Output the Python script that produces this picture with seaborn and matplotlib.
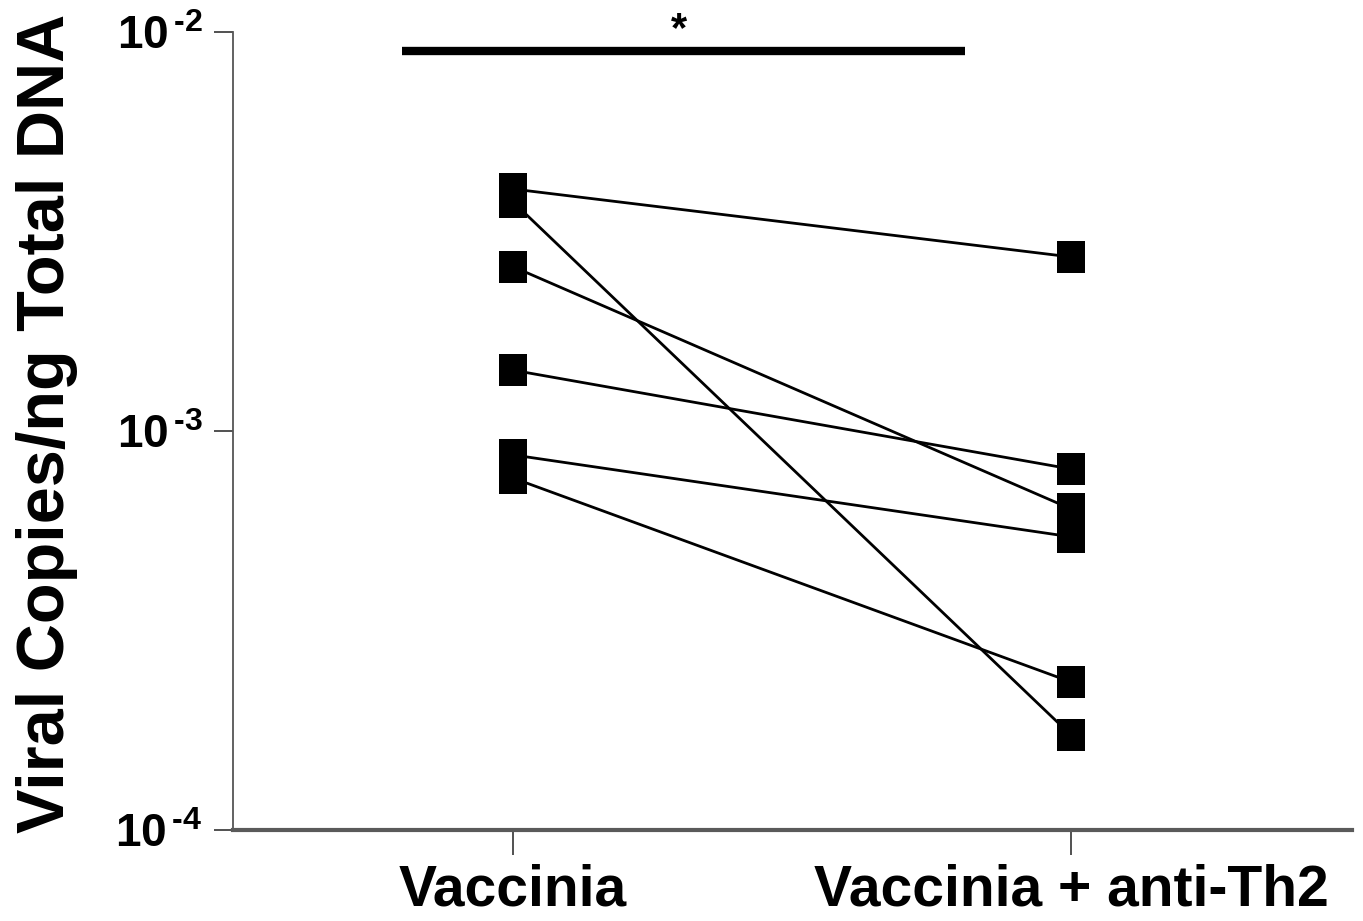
import numpy as np
import pandas as pd
import matplotlib
matplotlib.use("Agg")
import matplotlib.pyplot as plt
import seaborn as sns

# ---- data ----
groups = ["Vaccinia", "Vaccinia + anti-Th2"]
vaccinia = [4.04e-3, 3.75e-3, 2.58e-3, 1.42e-3, 0.871e-3, 0.762e-3]
anti_th2 = [2.73e-3, 0.173e-3, 0.638e-3, 0.803e-3, 0.543e-3, 0.235e-3]
ytick_values = [1e-4, 1e-3, 1e-2]
ytick_labels = ["$\\mathbf{10^{\\,\u20104}}$", "$\\mathbf{10^{\\,\u20103}}$", "$\\mathbf{10^{\\,\u20102}}$"]
ylabel = "Viral Copies/ng Total DNA"
sig_text = "*"

sns.set_theme(style="white")
plt.rcParams["font.family"] = ["Liberation Sans", "DejaVu Sans"]
plt.rcParams["mathtext.fontset"] = "custom"
plt.rcParams["mathtext.rm"] = "Liberation Sans"
plt.rcParams["mathtext.bf"] = "Liberation Sans:bold"
plt.rcParams["text.color"] = "black"
plt.rcParams["xtick.color"] = "black"
plt.rcParams["ytick.color"] = "black"
plt.rcParams["axes.labelcolor"] = "black"

rows = []
for i, (a, b) in enumerate(zip(vaccinia, anti_th2)):
    rows.append({"pair": i, "pos": 0, "value": a})
    rows.append({"pair": i, "pos": 1, "value": b})
df = pd.DataFrame(rows)

fig = plt.figure(figsize=(13.63, 9.21), dpi=100)
ax = fig.add_axes([0.171, 0.0988, 0.821, 0.8665])

sq = [(-1, -1.15), (1, -1.15), (1, 1.15), (-1, 1.15), (-1, -1.15)]
sns.lineplot(data=df, x="pos", y="value", units="pair", estimator=None,
             color="black", linewidth=2.0, marker=sq, markersize=23,
             markeredgewidth=0, markerfacecolor="black", ax=ax, legend=False)

ax.set_yscale("log")
ax.set_ylim(1e-4, 1e-2)
ax.set_xlim(-0.502, 1.504)
ax.set_yticks(ytick_values)
ax.set_yticklabels(ytick_labels, fontsize=33)
ax.yaxis.set_minor_locator(matplotlib.ticker.NullLocator())
ax.set_xticks([0, 1])
ax.set_xticklabels(groups, fontsize=41, fontweight="bold")
ax.set_xlabel("")
ax.set_ylabel(ylabel, fontsize=48, fontweight="bold")
ax.yaxis.set_label_coords(-0.139, 0.509)

for s in ["top", "right"]:
    ax.spines[s].set_visible(False)
ax.spines["left"].set_color("#555555")
ax.spines["left"].set_linewidth(1.3)
ax.spines["bottom"].set_color("#5a5a5a")
ax.spines["bottom"].set_linewidth(3.0)
ax.tick_params(axis="y", which="major", left=True, length=14, width=1.2,
               color="#333333", pad=8)
ax.tick_params(axis="x", which="major", bottom=True, length=18, width=1.2,
               color="#333333", pad=6)

# significance bar
ax.plot([-0.199, 0.81], [8.96e-3, 8.96e-3], color="black", linewidth=6,
        solid_capstyle="butt", clip_on=False)
ax.text(0.297, 9.0e-3, sig_text, ha="center", va="bottom", fontsize=30,
        fontweight="bold", clip_on=False)

fig.savefig("out.png", dpi=100)
